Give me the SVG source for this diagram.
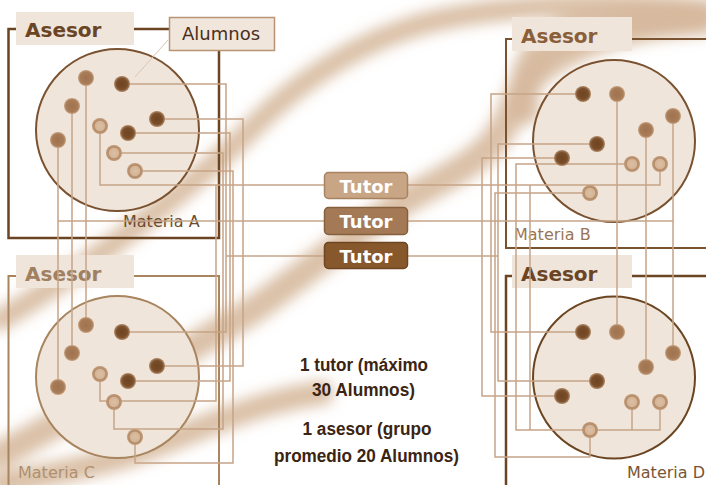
<svg xmlns="http://www.w3.org/2000/svg" width="706" height="485" viewBox="0 0 706 485">
<defs>
<style>
.bgs{fill:none;stroke:#d6b99d;stroke-linecap:round;opacity:.9}
.frame{fill:none}
.lbl{fill:#efe5da}
.ases{font-family:"DejaVu Sans",Verdana,sans-serif;font-weight:bold;font-size:20px}
.mat{font-family:"DejaVu Sans",Verdana,sans-serif;font-size:16px}
.circ{fill:#efe5da;stroke-width:2}
.conn path{fill:none;stroke:#c6a487;stroke-width:1.5}
.dk{fill:url(#gdk)}
.md{fill:url(#gmd)}
.lt{fill:url(#glt)}
.tut text{font-family:"DejaVu Sans",Verdana,sans-serif;font-weight:bold;font-size:18px;fill:#fff;text-anchor:middle}
.note{font-family:"Liberation Sans",Arial,sans-serif;font-weight:bold;font-size:18px;fill:#3b2412;text-anchor:middle}
</style>
<radialGradient id="gdk"><stop offset="0" stop-color="#6e4422"/><stop offset="0.68" stop-color="#7a4e2a"/><stop offset="1" stop-color="#b08a68"/></radialGradient>
<radialGradient id="gmd"><stop offset="0" stop-color="#a07350"/><stop offset="0.75" stop-color="#a87c57"/><stop offset="1" stop-color="#c7a383"/></radialGradient>
<radialGradient id="glt"><stop offset="0" stop-color="#dcbfa4"/><stop offset="0.6" stop-color="#d5b496"/><stop offset="0.72" stop-color="#b38b68"/><stop offset="1" stop-color="#c39c7a"/></radialGradient>
<filter id="blur" x="-20%" y="-20%" width="140%" height="140%"><feGaussianBlur stdDeviation="7"/></filter>
</defs>
<rect width="706" height="485" fill="#fff"/>
<g id="background" filter="url(#blur)">
<path class="bgs" stroke-width="22" d="M706 10 C620 0 500 5 430 22 C360 40 300 80 255 125 C200 180 100 260 0 320"/>
<path class="bgs" stroke-width="28" d="M690 22 C610 28 530 55 512 110 C497 150 470 165 420 192 C370 220 320 262 260 305 C200 345 100 400 0 455"/>
<path class="bgs" stroke-width="24" d="M322 393 C260 400 200 430 130 455 C80 470 30 478 0 484"/>
<path class="bgs" stroke-width="30" d="M706 20 C660 15 600 20 560 35 C530 50 520 80 525 110"/>
</g>
<g id="panel-A">
<path class="frame" stroke="#6b4521" stroke-width="2.5" d="M16 29H8.5V238H219V51M134 29H169"/>
<rect class="lbl" x="16" y="12" width="118" height="33"/>
<text class="ases" x="25" y="36.5" fill="#6b4423">Asesor</text>
<ellipse class="circ" cx="117.5" cy="130" rx="81.5" ry="81" stroke="#7a5230"/>
<text class="mat" x="123" y="227" fill="#6b4c30">Materia A</text>
</g>
<g id="panel-B">
<path class="frame" stroke="#7a5230" stroke-width="2" d="M512 39H506V248H706M632 39H706"/>
<rect class="lbl" x="512" y="17" width="120" height="34"/>
<text class="ases" x="521" y="43" fill="#8a5e38">Asesor</text>
<ellipse class="circ" cx="614" cy="141" rx="81" ry="81" stroke="#7a5230"/>
<text class="mat" x="514" y="240" fill="#9a7555">Materia B</text>
</g>
<g id="panel-C">
<path class="frame" stroke="#a8845f" stroke-width="2" d="M16 276H8.5V485M134 276H219V485"/>
<rect class="lbl" x="16" y="255" width="118" height="33"/>
<text class="ases" x="25" y="280.5" fill="#a08060">Asesor</text>
<ellipse class="circ" cx="117.5" cy="377" rx="81.5" ry="81" stroke="#a8845f"/>
<text class="mat" x="18" y="478" fill="#b09070">Materia C</text>
</g>
<g id="panel-D">
<path class="frame" stroke="#6b4521" stroke-width="2.5" d="M512 276H506V485M632 276H706"/>
<rect class="lbl" x="512" y="255" width="120" height="33"/>
<text class="ases" x="521" y="280.5" fill="#6b4423">Asesor</text>
<ellipse class="circ" cx="614" cy="377.5" rx="81" ry="81" stroke="#6b4521"/>
<text class="mat" x="627" y="478" fill="#7a5535">Materia D</text>
</g>
<g id="alumnos">
<rect x="169.5" y="17.5" width="105" height="33" fill="#f0e6dc" stroke="#b89474" stroke-width="1.5"/>
<text x="182" y="40" font-family="DejaVu Sans, Verdana, sans-serif" font-size="18" fill="#4a3020">Alumnos</text>
<path d="M168 40L135 77" stroke="#dcc6b0" stroke-width="1" fill="none"/>
</g>
<g id="connectors" class="conn">
<path d="M122 84H226V332H122"/>
<path d="M157 119H243V366H157"/>
<path d="M128 133H230V381H128"/>
<path d="M86 78V325M72 106V353M58 140V387"/>
<path d="M58 221H324"/>
<path d="M100 126V185H324"/>
<path d="M100 374V401H216V185"/>
<path d="M114 153H223V429H114V402"/>
<path d="M135 171H233V463H135V437"/>
<path d="M226 256H324"/>
<path d="M583 94H491V332H583"/>
<path d="M597 144H498V381H597"/>
<path d="M562 158H482V396H562"/>
<path d="M617 94V332M646 130V367M673 116V353"/>
<path d="M408 221H673"/>
<path d="M408 256H498"/>
<path d="M408 185H660V164"/>
<path d="M632 164H516V430H660V402"/>
<path d="M632 402V430M530 185V430"/>
<path d="M590 193H495V457H590V430"/>
</g>
<g id="dots-A">
<circle class="md" cx="86" cy="78" r="8"/>
<circle class="dk" cx="122" cy="84" r="8"/>
<circle class="md" cx="72" cy="106" r="8"/>
<circle class="dk" cx="157" cy="119" r="8"/>
<circle class="lt" cx="100" cy="126" r="8"/>
<circle class="dk" cx="128" cy="133" r="8"/>
<circle class="md" cx="58" cy="140" r="8"/>
<circle class="lt" cx="114" cy="153" r="8"/>
<circle class="lt" cx="135" cy="171" r="8"/>
</g>
<g id="dots-C">
<circle class="md" cx="86" cy="325" r="8"/>
<circle class="dk" cx="122" cy="332" r="8"/>
<circle class="md" cx="72" cy="353" r="8"/>
<circle class="dk" cx="157" cy="366" r="8"/>
<circle class="lt" cx="100" cy="374" r="8"/>
<circle class="dk" cx="128" cy="381" r="8"/>
<circle class="md" cx="58" cy="387" r="8"/>
<circle class="lt" cx="114" cy="402" r="8"/>
<circle class="lt" cx="135" cy="437" r="8"/>
</g>
<g id="dots-B">
<circle class="dk" cx="583" cy="94" r="8"/>
<circle class="md" cx="617" cy="94" r="8"/>
<circle class="md" cx="673" cy="116" r="8"/>
<circle class="md" cx="646" cy="130" r="8"/>
<circle class="dk" cx="597" cy="144" r="8"/>
<circle class="dk" cx="562" cy="158" r="8"/>
<circle class="lt" cx="632" cy="164" r="8"/>
<circle class="lt" cx="660" cy="164" r="8"/>
<circle class="lt" cx="590" cy="193" r="8"/>
</g>
<g id="dots-D">
<circle class="dk" cx="583" cy="332" r="8"/>
<circle class="md" cx="617" cy="332" r="8"/>
<circle class="md" cx="673" cy="353" r="8"/>
<circle class="md" cx="646" cy="367" r="8"/>
<circle class="dk" cx="597" cy="381" r="8"/>
<circle class="dk" cx="562" cy="396" r="8"/>
<circle class="lt" cx="632" cy="402" r="8"/>
<circle class="lt" cx="660" cy="402" r="8"/>
<circle class="lt" cx="590" cy="430" r="8"/>
</g>
<g id="tutor-1" class="tut">
<rect x="324.5" y="172.5" width="83" height="26" rx="4" fill="#c8a585" stroke="#a8835f" stroke-width="1.5"/>
<text x="366" y="193">Tutor</text>
</g>
<g id="tutor-2" class="tut">
<rect x="324.5" y="207.5" width="83" height="27" rx="4" fill="#a37a55" stroke="#86603d" stroke-width="1.5"/>
<text x="366" y="228">Tutor</text>
</g>
<g id="tutor-3" class="tut">
<rect x="324.5" y="242.5" width="83" height="26" rx="4" fill="#87582c" stroke="#6e4520" stroke-width="1.5"/>
<text x="366" y="263">Tutor</text>
</g>
<g id="notes">
<text class="note" x="364" y="370.5" textLength="128" lengthAdjust="spacingAndGlyphs">1 tutor (máximo</text>
<text class="note" x="363.5" y="396" textLength="103" lengthAdjust="spacingAndGlyphs">30 Alumnos)</text>
<text class="note" x="367" y="435" textLength="129" lengthAdjust="spacingAndGlyphs">1 asesor (grupo</text>
<text class="note" x="366.5" y="461.5" textLength="185" lengthAdjust="spacingAndGlyphs">promedio 20 Alumnos)</text>
</g>
</svg>
